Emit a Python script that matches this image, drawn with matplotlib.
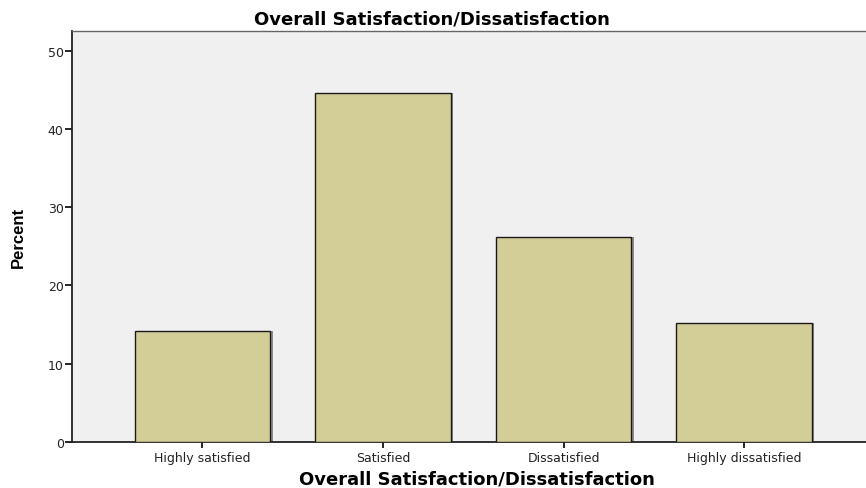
import matplotlib
matplotlib.use("Agg")
import matplotlib.pyplot as plt

categories = ["Highly satisfied", "Satisfied", "Dissatisfied", "Highly dissatisfied"]
percent = [14.2, 44.6, 26.2, 15.2]
yticks = [0, 10, 20, 30, 40, 50]

plt.rcParams['font.family'] = ['DejaVu Sans']

fig = plt.figure(figsize=(8.66, 4.89), dpi=100)
ax = fig.add_axes([72 / 866, 1 - 442.7 / 489, 1 - 72 / 866, (442.7 - 31.7) / 489])
ax.set_facecolor("#f0f0f0")

x = list(range(len(categories)))
# faint shadow to the right of each bar, like the SPSS output
ax.bar([i + 0.014 for i in x], percent, width=0.75, color="#8a8a8a", zorder=2)
ax.bar(x, percent, width=0.75, color="#d3cd98", edgecolor="#1a1a1a", linewidth=1.0, zorder=3)

ax.set_xlim(-0.722, 3.675)
ax.set_ylim(0, 52.6)
ax.set_yticks(yticks)
ax.set_xticks(x)
ax.set_xticklabels(categories, fontsize=9, color="#222222")
ax.tick_params(axis="y", labelsize=9, labelcolor="#222222", length=5, width=1.2, direction="out", pad=1)
ax.tick_params(axis="x", length=4, width=1.2, direction="out", pad=3)

for side in ["left", "bottom"]:
    ax.spines[side].set_color("#222222")
    ax.spines[side].set_linewidth(1.3)
ax.spines["top"].set_color("#666666")
ax.spines["top"].set_linewidth(1.0)
ax.spines["right"].set_visible(False)

fig.text(0.499, 1 - 24 / 489, "Overall Satisfaction/Dissatisfaction", fontsize=13,
         fontweight="bold", ha="center", va="baseline")
ax.set_xlabel("Overall Satisfaction/Dissatisfaction", fontsize=13, fontweight="bold")
ax.xaxis.label.set_va("baseline")
ax.xaxis.set_label_coords(0.51, -0.102)
ax.set_ylabel("Percent", fontsize=12, fontweight="bold",
              family=["Liberation Sans Narrow", "DejaVu Sans Condensed", "Liberation Sans"])
ax.yaxis.set_label_coords(-0.058, 0.5)

fig.savefig("out.png", dpi=100)
